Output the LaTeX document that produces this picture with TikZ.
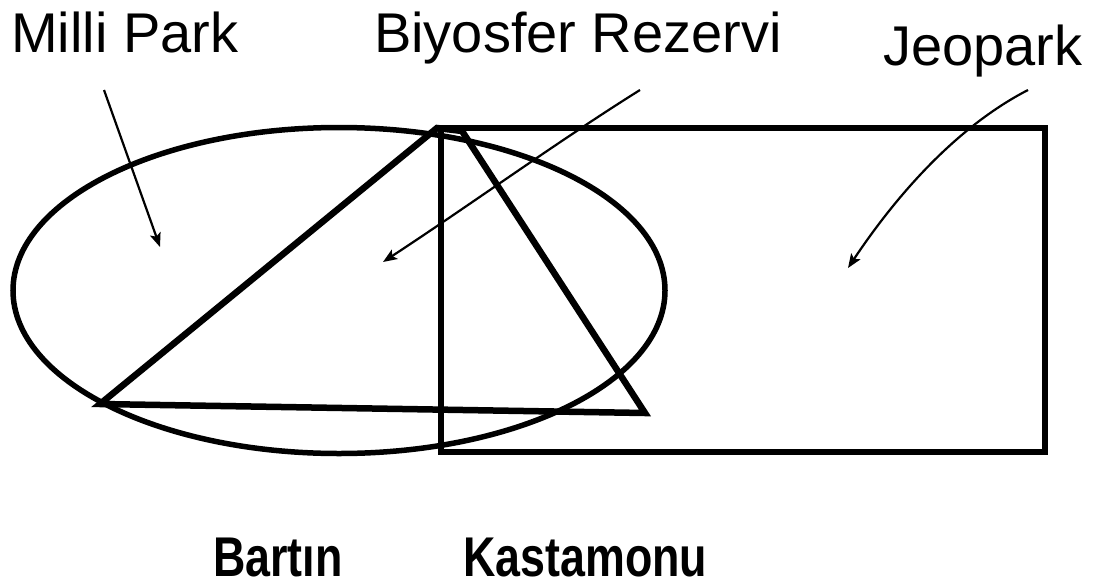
\documentclass[tikz,border=0pt]{standalone}
\usepackage{fontspec}
\usepackage{graphicx}
\setmainfont{Liberation Sans}
\usetikzlibrary{arrows.meta}
\tikzset{
  label/.style={inner sep=0pt, anchor=base west, font=\fontsize{56}{60}\selectfont},
  city/.style={inner sep=0pt, anchor=base west, font=\fontsize{56}{60}\selectfont\bfseries},
  shapeline/.style={line width=6.5pt, line join=miter},
  pointer/.style={line width=2.2pt, -{Stealth[length=14pt,width=11pt,inset=3pt]}}
}
\begin{document}
\begin{tikzpicture}[x=1pt,y=-1pt]
\useasboundingbox (0,0) rectangle (1095,584);
% labels
\node[label] (milli) at (11,52) {Milli Park};
\node[label] (bio) at (374,52) {Biyosfer Rezervi};
\node[label] (jeo) at (883,65) {Jeopark};
\node[city] (bartin) at (213,576) {\scalebox{0.8}[1]{Bartın}};
\node[city] (kasta) at (463,576) {\scalebox{0.8}[1]{Kastamonu}};
% shapes
\draw[line width=5.5pt] (339,290.5) ellipse [x radius=326pt, y radius=163pt];
\draw[shapeline] (441,128) rectangle (1045,452);
\draw[shapeline] (100,404) -- (437,128) -- (462,131) -- (645,413) -- cycle;
% pointer coordinates
\coordinate (m1) at (104,90);
\coordinate (m2) at (160,247);
\coordinate (b1) at (640,90);
\coordinate (b2) at (383,262);
\coordinate (j1) at (1028,90);
\coordinate (j2) at (848,268);
\draw[pointer] (m1) -- (m2);
\draw[pointer] (b1) .. controls (560,140) and (470,205) .. (b2);
\draw[pointer] (j1) .. controls (960,125) and (900,190) .. (j2);
\end{tikzpicture}
\end{document}
